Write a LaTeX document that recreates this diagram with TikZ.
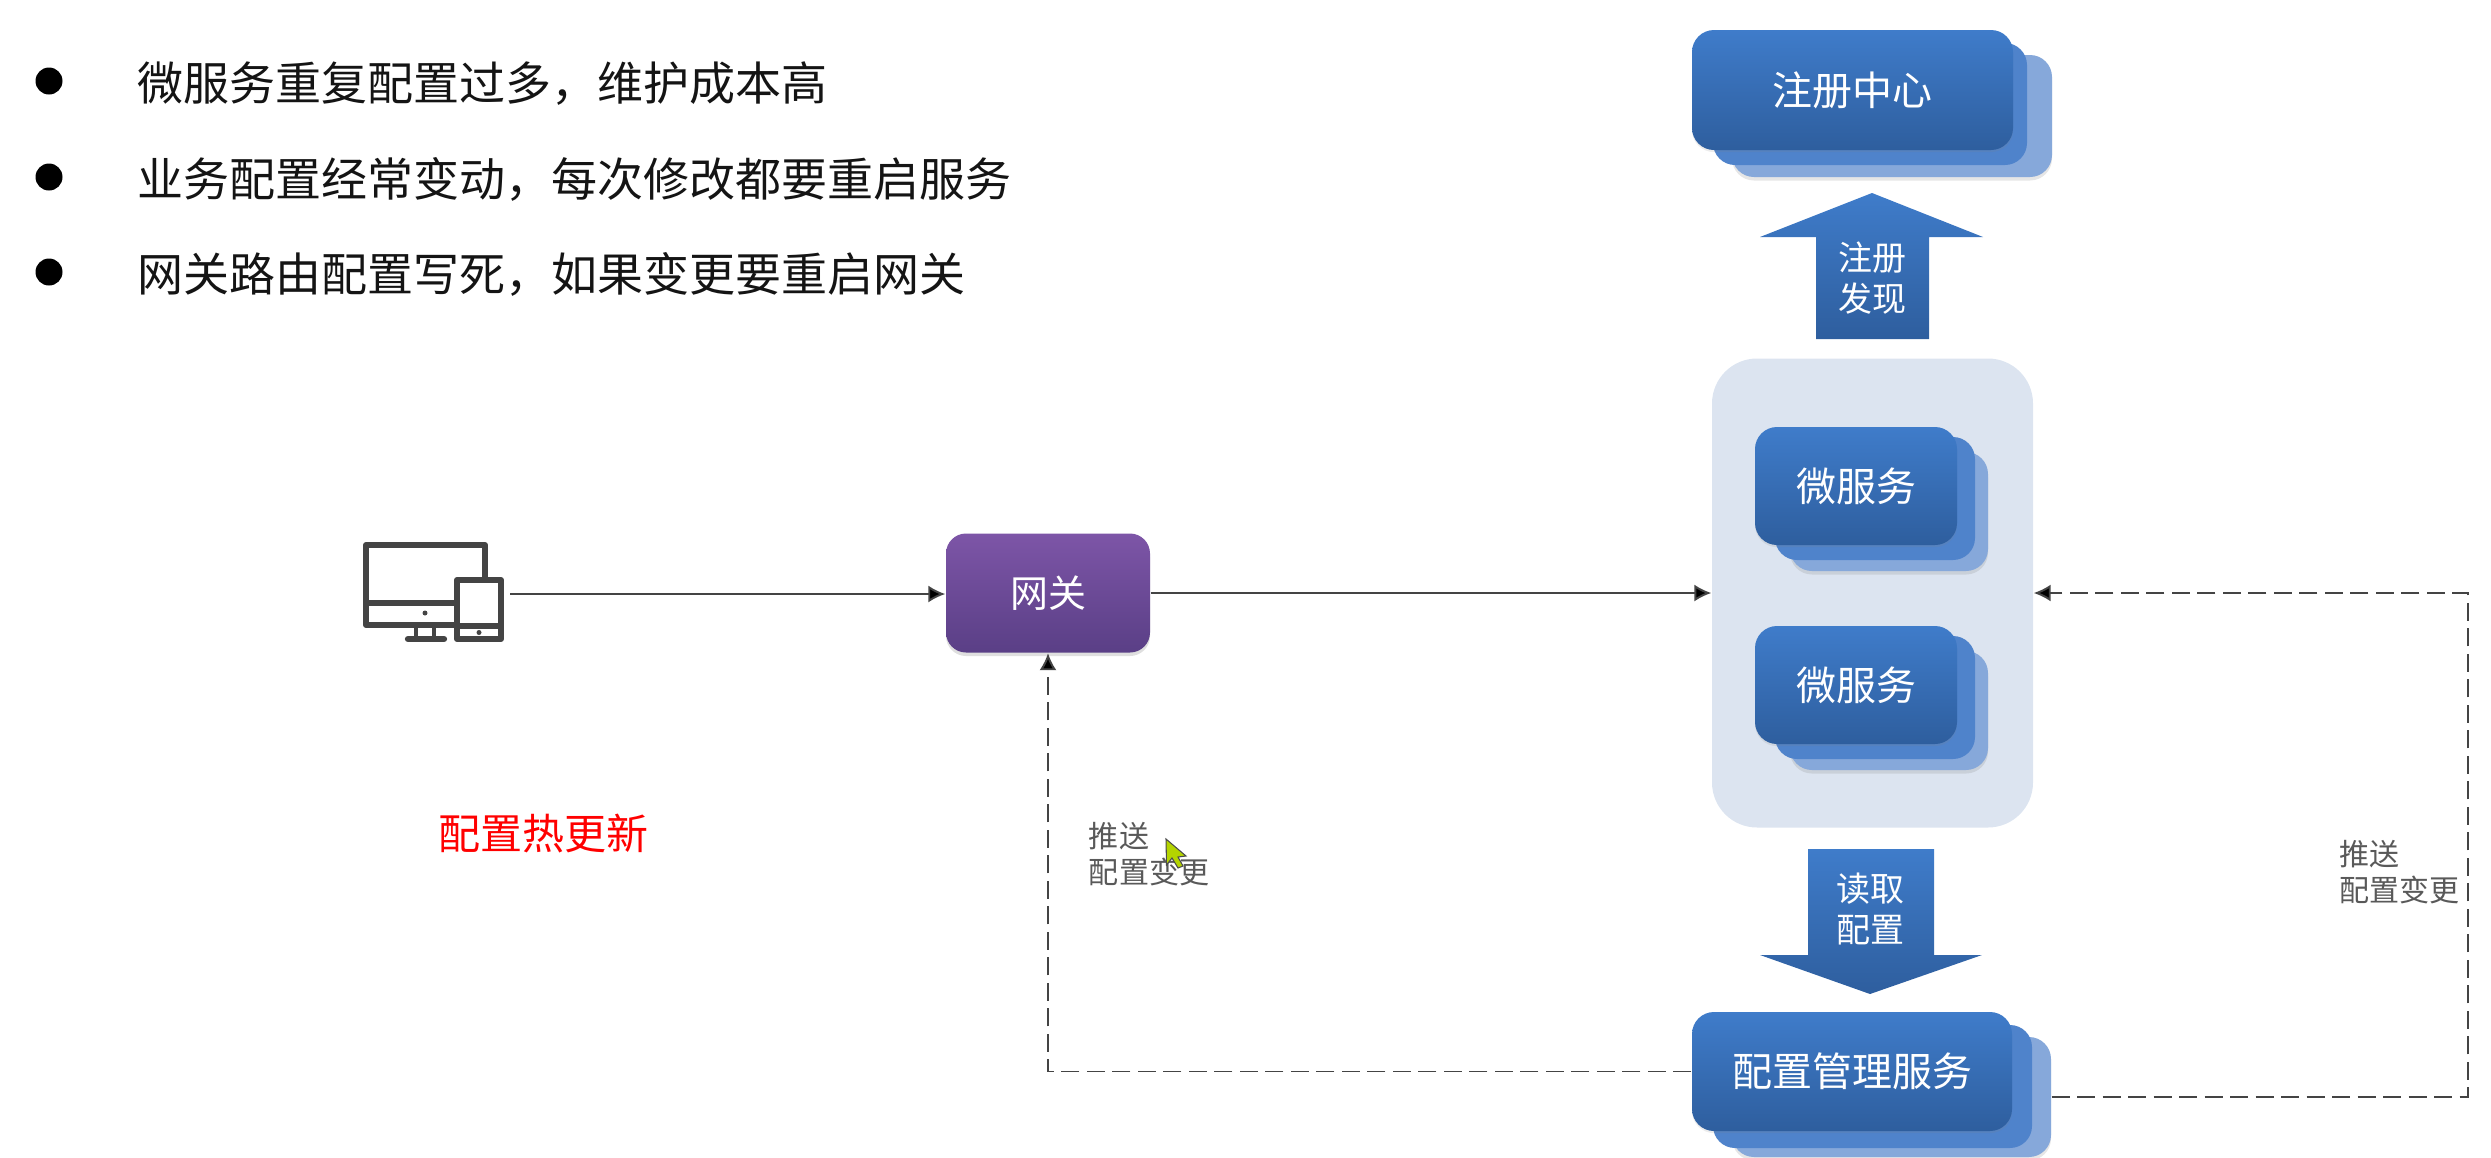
\documentclass[tikz,border=0pt]{standalone}
\usepackage{xcolor}
\usepackage{fontspec}
\setmainfont{Noto Sans CJK SC}
\usetikzlibrary{arrows.meta,shadows}
\definecolor{bluetop}{HTML}{3F7CCA}
\definecolor{bluebot}{HTML}{2E5E9E}
\definecolor{bluemid}{HTML}{4F83CB}
\definecolor{blueback}{HTML}{86A8DA}
\definecolor{purpletop}{HTML}{7D55A7}
\definecolor{purplebot}{HTML}{5A3F86}
\definecolor{panelfill}{HTML}{DCE4F0}
\definecolor{icongray}{HTML}{444444}
\definecolor{pointerfill}{HTML}{B4D400}
\tikzset{
    stackfront/.style={rounded corners=.22cm,inner sep=0pt,top color=bluetop,bottom color=bluebot,text=white,font=\fontsize{11.38}{13}\selectfont,drop shadow={shadow xshift=0pt,shadow yshift=-.6pt,opacity=.15}},
    stackmid/.style={rounded corners=.22cm,inner sep=0pt,fill=bluemid},
    stackback/.style={rounded corners=.22cm,inner sep=0pt,fill=blueback,drop shadow={shadow xshift=0pt,shadow yshift=-1pt,opacity=.2}},
    arrowtext/.style={text=white,align=center,font=\fontsize{9.67}{11.8}\selectfont},
    pushtext/.style={text=black!65,align=left,font=\fontsize{8.54}{10.24}\selectfont},
    pointtext/.style={anchor=west,inner sep=0pt,text=black!92,font=\fontsize{13.09}{15}\selectfont},
    pointdot/.style={circle,fill=black,inner sep=0pt,minimum size=.27cm},
    flowline/.style={draw=icongray,line width=.55pt,-{Latex[length=.17cm,width=.17cm,fill=black]}},
    pushline/.style={flowline,dash pattern=on .18cm off .075cm},
}
\begin{document}
\begin{tikzpicture}[y=-1cm]
        \useasboundingbox (0,0) rectangle (24.91,11.57);

        \node[pointdot] (dota) at (.49,.81) {};
        \node[pointdot] (dotb) at (.49,1.77) {};
        \node[pointdot] (dotc) at (.49,2.72) {};
        \node[pointtext] (pointa) at (1.37,.84) {微服务重复配置过多，维护成本高};
        \node[pointtext] (pointb) at (1.37,1.79) {业务配置经常变动，每次修改都要重启服务};
        \node[pointtext] (pointc) at (1.37,2.74) {网关路由配置写死，如果变更要重启网关};

        \node[stackback,minimum width=3.2cm,minimum height=1.22cm] (regback) at (18.92,1.16) {};
        \node[stackmid,minimum width=3.14cm,minimum height=1.22cm] (regmid) at (18.70,1.04) {};
        \node[stackfront,minimum width=3.21cm,minimum height=1.2cm] (reg) at (18.525,.9) {注册中心};

        \shade[top color=bluetop,bottom color=bluebot] (18.72,1.93) -- (19.83,2.37) -- (19.29,2.37) -- (19.29,3.39) -- (18.16,3.39) -- (18.16,2.37) -- (17.60,2.37) -- cycle;
        \node[arrowtext] (regarrow) at (18.72,2.78) {注册\\发现};

        \node[fill=panelfill,rounded corners=.45cm,inner sep=0pt,minimum width=3.21cm,minimum height=4.69cm] (panel) at (18.725,5.93) {};

        \node[stackback,minimum width=1.98cm,minimum height=1.19cm] (svcaback) at (18.89,5.115) {};
        \node[stackmid,minimum width=2.0cm,minimum height=1.23cm] (svcamid) at (18.75,4.985) {};
        \node[stackfront,minimum width=2.02cm,minimum height=1.18cm] (svca) at (18.56,4.86) {微服务};

        \node[stackback,minimum width=1.98cm,minimum height=1.19cm] (svcbback) at (18.89,7.105) {};
        \node[stackmid,minimum width=2.0cm,minimum height=1.23cm] (svcbmid) at (18.75,6.975) {};
        \node[stackfront,minimum width=2.02cm,minimum height=1.18cm] (svcb) at (18.56,6.85) {微服务};

        \shade[top color=bluetop,bottom color=bluebot] (18.08,8.49) -- (19.34,8.49) -- (19.34,9.55) -- (19.82,9.55) -- (18.70,9.94) -- (17.60,9.55) -- (18.08,9.55) -- cycle;
        \node[arrowtext] (readarrow) at (18.70,9.09) {读取\\配置};

        \node[stackback,minimum width=3.19cm,minimum height=1.2cm] (cfgback) at (18.915,10.97) {};
        \node[stackmid,minimum width=3.19cm,minimum height=1.23cm] (cfgmid) at (18.725,10.865) {};
        \node[stackfront,minimum width=3.2cm,minimum height=1.19cm] (cfg) at (18.52,10.715) {配置管理服务};

        \node[rounded corners=.2cm,inner sep=0pt,minimum width=2.04cm,minimum height=1.19cm,top color=purpletop,bottom color=purplebot,text=white,font=\fontsize{10.8}{13}\selectfont,drop shadow={shadow xshift=0pt,shadow yshift=-1pt,opacity=.25}] (gateway) at (10.48,5.93) {网关};

        \draw[icongray,line width=1.7pt,line join=round] (4.85,5.78) -- (4.85,5.45) -- (3.66,5.45) -- (3.66,6.25) -- (4.55,6.25);
        \draw[icongray,line width=1.7pt] (3.66,6.03) -- (4.55,6.03);
        \draw[icongray,line width=1.4pt] (4.16,6.25) -- (4.16,6.38) (4.34,6.25) -- (4.34,6.38);
        \draw[icongray,line width=1.8pt,line cap=round] (4.08,6.39) -- (4.44,6.39);
        \draw[icongray,line width=1.7pt,line join=round] (4.57,5.80) rectangle (5.01,6.39);
        \draw[icongray,line width=1.7pt] (4.57,6.26) -- (5.01,6.26);
        \fill[icongray] (4.25,6.13) circle (.025);
        \fill[icongray] (4.79,6.325) circle (.025);
        \coordinate (device) at (5.10,5.94);

        \draw[flowline] (device) -- (gateway.west |- device);
        \draw[flowline] (gateway.east) -- (panel.west);
        \draw[pushline] (cfg.west) -| (gateway.south);
        \coordinate (pushcorner) at (24.68,10.97);
        \draw[pushline] (cfgback.east) -- (pushcorner) |- (panel.east);

        \node[pushtext] (pushleft) at (11.49,8.54) {推送\\配置变更};
        \node[pushtext] (pushright) at (23.99,8.72) {推送\\配置变更};
        \node[text=red,font=\fontsize{11.95}{14}\selectfont] (hotupdate) at (5.43,8.34) {配置热更新};

        \draw[fill=pointerfill,draw=black!70,line width=.3pt] (11.66,8.39) -- (11.665,8.65) -- (11.72,8.58) -- (11.78,8.68) -- (11.83,8.66) -- (11.78,8.57) -- (11.86,8.56) -- cycle;
    \end{tikzpicture}
\end{document}
